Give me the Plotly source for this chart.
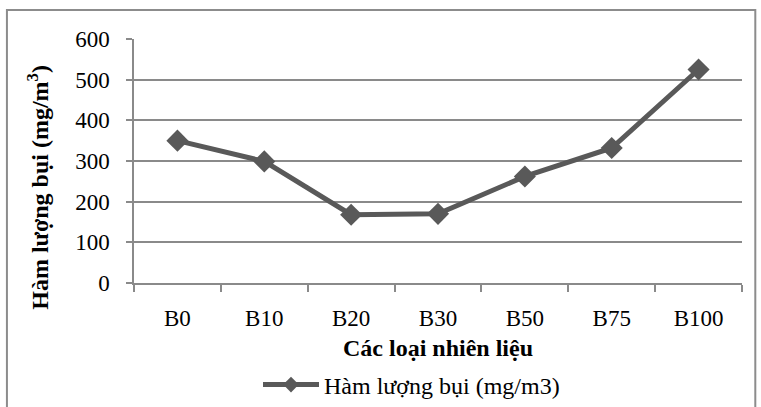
import plotly.graph_objects as go

categories = ["B0", "B10", "B20", "B30", "B50", "B75", "B100"]
values = [350, 299, 168, 170, 262, 332, 525]
series_name = "Hàm lượng bụi (mg/m3)"
y_title = "Hàm lượng bụi (mg/m<sup>3</sup>)"
x_title = "Các loại nhiên liệu"

FONT = "Liberation Serif, Times New Roman, serif"
GRID = "#8a8a8a"
LINE = "#595959"

fig = go.Figure()
fig.add_trace(go.Scatter(
    x=categories, y=values, mode="lines+markers", name=series_name,
    line=dict(color=LINE, width=5),
    marker=dict(symbol="diamond", size=17, color=LINE),
))

L, R, T, B = 134, 19.3, 39, 123.7
W, H = 761, 407
pw = W - L - R
ph = H - T - B

def px_x(x):
    return (x - L) / pw

def px_y(y):
    return (H - B - y) / ph

fig.update_layout(
    width=W, height=H,
    margin=dict(l=L, r=R, t=T, b=B, pad=0, autoexpand=False),
    paper_bgcolor="white", plot_bgcolor="white",
    font=dict(family=FONT, size=24, color="black"),
    showlegend=True,
    legend=dict(orientation="h", xref="container", yref="container",
                x=258 / W, xanchor="left", y=1 - 385 / H, yanchor="middle",
                font=dict(size=24, family=FONT), itemsizing="constant", itemwidth=56,
                bgcolor="rgba(0,0,0,0)"),
    xaxis=dict(type="category", range=[-0.5, 6.5], showgrid=False, showline=True,
               linecolor=GRID, linewidth=1.5, ticks="outside", tickson="boundaries",
               ticklen=7, tickcolor=GRID, tickwidth=1.5, tickfont=dict(size=23, family=FONT),
               ticklabelstandoff=14, automargin=False, fixedrange=True),
    yaxis=dict(range=[0, 600], dtick=100, showgrid=True, gridcolor=GRID, gridwidth=1.5,
               showline=True, linecolor=GRID, linewidth=1.5, ticks="outside", ticklen=6,
               tickcolor=GRID, tickwidth=1.5, tickfont=dict(size=23, family=FONT), zeroline=False,
               ticklabelstandoff=12, automargin=False, fixedrange=True),
    annotations=[
        dict(text="<b>" + x_title + "</b>", xref="paper", yref="paper",
             x=px_x(438), y=px_y(348), xanchor="center", yanchor="middle",
             showarrow=False, font=dict(size=24, family=FONT)),
        dict(text="<b>" + y_title + "</b>", xref="paper", yref="paper",
             x=px_x(38), y=px_y(187), xanchor="center", yanchor="middle",
             textangle=-90, showarrow=False, font=dict(size=24, family=FONT)),
    ],
    shapes=[
        dict(type="rect", xref="paper", yref="paper",
             x0=px_x(7), x1=px_x(755), y0=px_y(420), y1=px_y(10),
             line=dict(color="#8c8c8c", width=2), fillcolor="rgba(0,0,0,0)", layer="below"),
    ],
)

fig.write_html("out.html")
